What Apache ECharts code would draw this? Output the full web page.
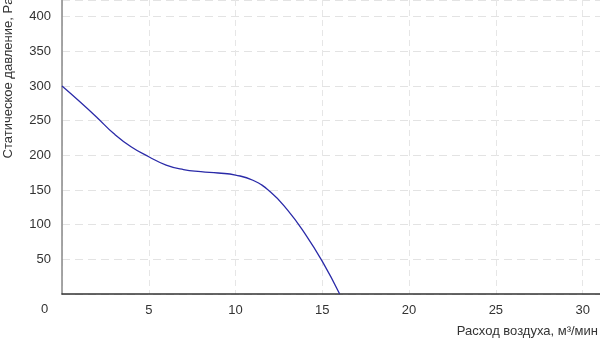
<!DOCTYPE html>
<html><head><meta charset="utf-8">
<script src="https://cdn.jsdelivr.net/npm/echarts@6/dist/echarts.min.js"></script>
<style>html,body{margin:0;padding:0;background:#fff}#c{width:600px;height:346px}</style>
</head><body><div id="c"></div>
<script>
const flow = [0,1,2,3,4,5,6,7,8,9,10,11,12,13,14,15,16];
const pressure = [300,278,255,231,212,198,186,179.5,176.5,174.5,171.5,164,147.5,121,87,47,0];
const xTitle = 'Расход воздуха, м³/мин';
const yTitle = 'Статическое давление, Pa';
const originLabel = '0';

const chart = echarts.init(document.getElementById('c'));
const font = '"Liberation Sans", Arial, sans-serif';
chart.setOption({
  animation: false,
  grid: {left: 62, right: 0, top: 0, bottom: 52},
  xAxis: {
    type: 'value', min: 0, max: 31, interval: 5,
    axisLine: {show: true, lineStyle: {color: '#333', width: 1.5}},
    axisTick: {show: false},
    axisLabel: {showMinLabel: false, showMaxLabel: false, color: '#333', fontSize: 13, fontFamily: font, margin: 10},
    splitLine: {show: true, lineStyle: {color: '#e6e6e6', type: [6, 4]}}
  },
  yAxis: {
    type: 'value', min: 0, max: 424, interval: 50,
    axisLine: {show: true, lineStyle: {color: '#888', width: 1.5}},
    axisTick: {show: false},
    axisLabel: {showMinLabel: false, showMaxLabel: false, color: '#333', fontSize: 13, fontFamily: font, margin: 11},
    splitLine: {show: true, lineStyle: {color: '#e3e3e3', type: [8, 5]}}
  },
  graphic: [
    {type: 'text', left: 41, top: 303, style: {text: originLabel, fill: '#333', font: '13px ' + font}},
    {type: 'text', right: 2, top: 325, style: {text: xTitle, fill: '#333', font: '13px ' + font}},
    {type: 'text', x: 8, y: 78, rotation: Math.PI/2, style: {text: yTitle, fill: '#333', font: '13px ' + font, align: 'center', verticalAlign: 'middle'}}
  ],
  series: [{
    type: 'line', smooth: 0.5, showSymbol: false,
    data: flow.map((x, i) => [x, pressure[i]]),
    lineStyle: {color: '#2a2aa8', width: 1.3}
  }]
});
</script></body></html>
